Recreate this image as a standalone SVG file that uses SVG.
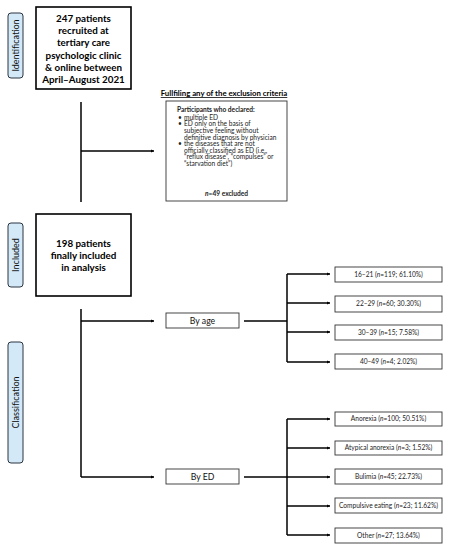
<svg xmlns="http://www.w3.org/2000/svg" width="449" height="550" viewBox="0 0 449 550">
<style>
.lab{fill:#d3e9f8;stroke:#2a3440;stroke-width:1}
.labt{font-family:Lato,"Liberation Sans",sans-serif;font-size:9px;fill:#111;text-anchor:middle}
.big{fill:#fff;stroke:#000;stroke-width:1.6}
.bigt{font-family:Lato,"Liberation Sans",sans-serif;font-size:9.8px;font-weight:bold;fill:#000;text-anchor:middle}
.sm{fill:#fff;stroke:#333;stroke-width:0.9}
.smt{font-family:Lato,"Liberation Sans",sans-serif;font-size:6.6px;fill:#222;text-anchor:middle}
.mid{font-family:Lato,"Liberation Sans",sans-serif;font-size:8.7px;fill:#111;text-anchor:middle}
.ex{font-family:Lato,"Liberation Sans",sans-serif;font-size:6.6px;fill:#222}
.ln{fill:none;stroke:#000;stroke-width:1.5}
</style>
<defs>
<marker id="ah" markerUnits="userSpaceOnUse" markerWidth="4" markerHeight="4" refX="3" refY="2" orient="auto">
<path d="M0,0.5 L3,2 L0,3.5 Z" fill="#000"/>
</marker>
</defs>

<g id="label-identification">
<rect class="lab" x="8" y="13" width="15" height="65" rx="3"/>
<text class="labt" transform="translate(18.6,45.5) rotate(-90)">Identification</text>
</g>
<g id="label-included">
<rect class="lab" x="8" y="223" width="15" height="64" rx="3"/>
<text class="labt" transform="translate(18.6,255) rotate(-90)">Included</text>
</g>
<g id="label-classification">
<rect class="lab" x="8" y="342" width="15" height="121" rx="3"/>
<text class="labt" transform="translate(18.6,402.5) rotate(-90)">Classification</text>
</g>

<g id="connectors">
<path class="ln" d="M81,102 V202"/>
<path class="ln" d="M81,151 H154" marker-end="url(#ah)"/>
<path class="ln" d="M81,309 V477"/>
<path class="ln" d="M81,321 H154" marker-end="url(#ah)"/>
<path class="ln" d="M81,477 H154" marker-end="url(#ah)"/>
<path class="ln" d="M244,321 H287"/>
<path class="ln" d="M287,274 V362"/>
<path class="ln" d="M287,274 H330" marker-end="url(#ah)"/>
<path class="ln" d="M287,303 H330" marker-end="url(#ah)"/>
<path class="ln" d="M287,332 H330" marker-end="url(#ah)"/>
<path class="ln" d="M287,362 H330" marker-end="url(#ah)"/>
<path class="ln" d="M244,477 H287"/>
<path class="ln" d="M287,419 V535"/>
<path class="ln" d="M287,419 H330" marker-end="url(#ah)"/>
<path class="ln" d="M287,448 H330" marker-end="url(#ah)"/>
<path class="ln" d="M287,477 H330" marker-end="url(#ah)"/>
<path class="ln" d="M287,506 H330" marker-end="url(#ah)"/>
<path class="ln" d="M287,535 H330" marker-end="url(#ah)"/>
</g>

<g id="node-recruited">
<rect class="big" x="36" y="7" width="95" height="82"/>
<text class="bigt" x="83.5" y="22">247 patients</text>
<text class="bigt" x="83.5" y="34.2">recruited at</text>
<text class="bigt" x="83.5" y="46.4">tertiary care</text>
<text class="bigt" x="83.5" y="58.6">psychologic clinic</text>
<text class="bigt" x="83.5" y="70.8">&amp; online between</text>
<text class="bigt" x="83.5" y="83">April–August 2021</text>
</g>

<g id="node-exclusion">
<text x="224" y="96" font-family="Lato,'Liberation Sans',sans-serif" font-size="7.8" font-weight="bold" text-anchor="middle" text-decoration="underline" fill="#000">Fullfiling any of the exclusion criteria</text>
<rect class="sm" x="166" y="101" width="121" height="100"/>
<text class="ex" x="177" y="111.5" font-weight="bold">Participants who declared:</text>
<text class="ex" x="178" y="119.8">•</text><text class="ex" x="184" y="119.8">multiple ED</text>
<text class="ex" x="178" y="126.4">•</text><text class="ex" x="184" y="126.4">ED only on the basis of</text>
<text class="ex" x="184" y="133">subjective feeling without</text>
<text class="ex" x="184" y="139.6">definitive diagnosis by physician</text>
<text class="ex" x="178" y="146.2">•</text><text class="ex" x="184" y="146.2">the diseases that are not</text>
<text class="ex" x="184" y="152.8">officially classified as ED (i.e.,</text>
<text class="ex" x="184" y="159.4">“reflux disease”, “compulses” or</text>
<text class="ex" x="184" y="166">“starvation diet”)</text>
<text class="ex" x="226.5" y="195.5" text-anchor="middle" font-weight="bold"><tspan font-style="italic">n</tspan>=49 excluded</text>
</g>

<g id="node-included">
<rect class="big" x="36" y="214" width="95" height="82"/>
<text class="bigt" x="83.5" y="247">198 patients</text>
<text class="bigt" x="83.5" y="259">finally included</text>
<text class="bigt" x="83.5" y="271">in analysis</text>
</g>

<g id="node-by-age">
<rect class="sm" x="166" y="313" width="73" height="15"/>
<text class="mid" x="202.5" y="323.6">By age</text>
</g>
<g id="node-by-ed">
<rect class="sm" x="166" y="469" width="73" height="15"/>
<text class="mid" x="202.5" y="479.6">By ED</text>
</g>

<g id="node-age-1"><rect class="sm" x="335" y="267" width="107" height="15"/><text class="smt" x="388.5" y="276.8">16–21 (<tspan font-style="italic">n</tspan>=119; 61.10%)</text></g>
<g id="node-age-2"><rect class="sm" x="335" y="296" width="107" height="16"/><text class="smt" x="388.5" y="306.3">22–29 (<tspan font-style="italic">n</tspan>=60; 30.30%)</text></g>
<g id="node-age-3"><rect class="sm" x="335" y="325" width="107" height="15"/><text class="smt" x="388.5" y="334.8">30–39 (<tspan font-style="italic">n</tspan>=15; 7.58%)</text></g>
<g id="node-age-4"><rect class="sm" x="335" y="354" width="107" height="15"/><text class="smt" x="388.5" y="363.8">40–49 (<tspan font-style="italic">n</tspan>=4; 2.02%)</text></g>

<g id="node-ed-1"><rect class="sm" x="335" y="412" width="107" height="14"/><text class="smt" x="388.5" y="421.3">Anorexia (<tspan font-style="italic">n</tspan>=100; 50.51%)</text></g>
<g id="node-ed-2"><rect class="sm" x="335" y="441" width="107" height="14"/><text class="smt" x="388.5" y="450.3">Atypical anorexia (<tspan font-style="italic">n</tspan>=3; 1.52%)</text></g>
<g id="node-ed-3"><rect class="sm" x="335" y="469" width="107" height="15"/><text class="smt" x="388.5" y="478.8">Bulimia (<tspan font-style="italic">n</tspan>=45; 22.73%)</text></g>
<g id="node-ed-4"><rect class="sm" x="335" y="498" width="107" height="15"/><text class="smt" x="388.5" y="507.8">Compulsive eating (<tspan font-style="italic">n</tspan>=23; 11.62%)</text></g>
<g id="node-ed-5"><rect class="sm" x="335" y="528" width="107" height="15"/><text class="smt" x="388.5" y="537.8">Other (<tspan font-style="italic">n</tspan>=27; 13.64%)</text></g>
</svg>
